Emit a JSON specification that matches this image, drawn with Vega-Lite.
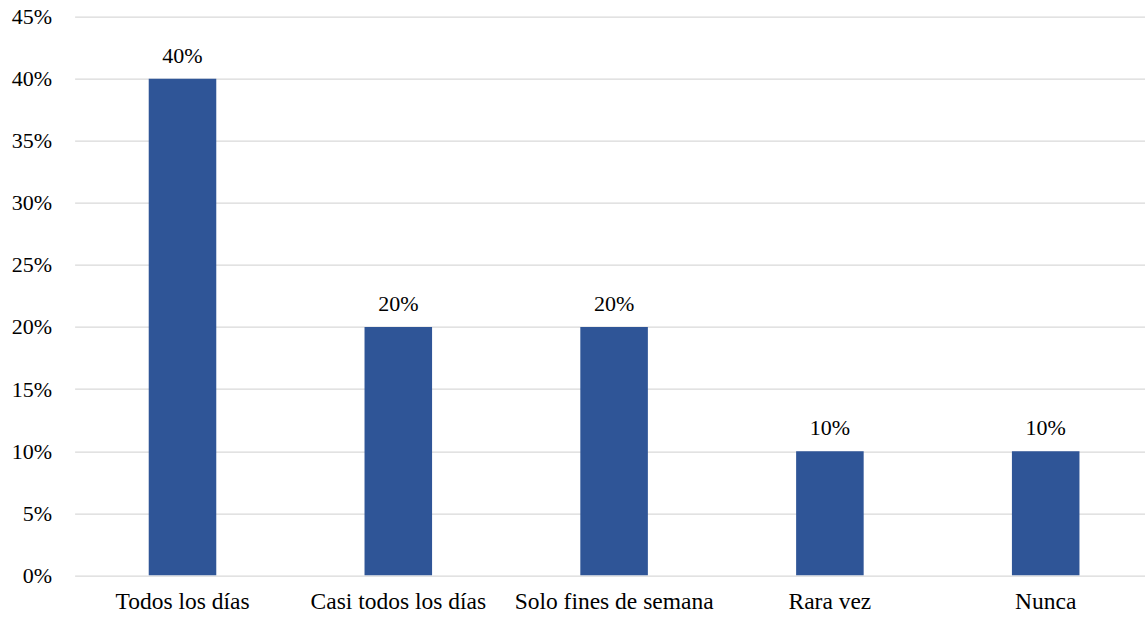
{
  "$schema": "https://vega.github.io/schema/vega-lite/v6.json",
  "autosize": {"type": "none"},
  "width": 1079,
  "height": 558.7,
  "padding": {"left": 74.6, "top": 16.6, "right": 0, "bottom": 41.7},
  "background": "white",
  "config": {
    "view": {"stroke": null},
    "font": "Liberation Serif, Times New Roman, serif"
  },
  "data": {
    "values": [
      {"categoria": "Todos los días", "valor": 0.40},
      {"categoria": "Casi todos los días", "valor": 0.20},
      {"categoria": "Solo fines de semana", "valor": 0.20},
      {"categoria": "Rara vez", "valor": 0.10},
      {"categoria": "Nunca", "valor": 0.10}
    ]
  },
  "encoding": {
    "x": {
      "field": "categoria",
      "type": "nominal",
      "sort": null,
      "scale": {"paddingInner": 0.687, "paddingOuter": 0.3435},
      "axis": {
        "title": null,
        "labelAngle": 0,
        "labelFont": "Liberation Serif, Times New Roman, serif",
        "labelFontSize": 23.5,
        "labelLimit": 0,
        "labelColor": "#000000",
        "labelPadding": 14,
        "ticks": false,
        "domain": false,
        "grid": false
      }
    },
    "y": {
      "field": "valor",
      "type": "quantitative",
      "scale": {"domain": [0, 0.45], "nice": false},
      "axis": {
        "title": null,
        "values": [0, 0.05, 0.1, 0.15, 0.2, 0.25, 0.3, 0.35, 0.4, 0.45],
        "format": ".0%",
        "labelFont": "Liberation Serif, Times New Roman, serif",
        "labelFontSize": 22,
        "labelColor": "#000000",
        "labelPadding": 23,
        "ticks": false,
        "domain": false,
        "grid": true,
        "gridColor": "#D9D9D9",
        "gridWidth": 1.3
      }
    }
  },
  "layer": [
    {"mark": {"type": "bar", "color": "#2F5597"}},
    {
      "mark": {
        "type": "text",
        "baseline": "alphabetic",
        "dy": -16,
        "font": "Liberation Serif, Times New Roman, serif",
        "fontSize": 22,
        "color": "#000000"
      },
      "encoding": {
        "text": {"field": "valor", "type": "quantitative", "format": ".0%"}
      }
    }
  ]
}
